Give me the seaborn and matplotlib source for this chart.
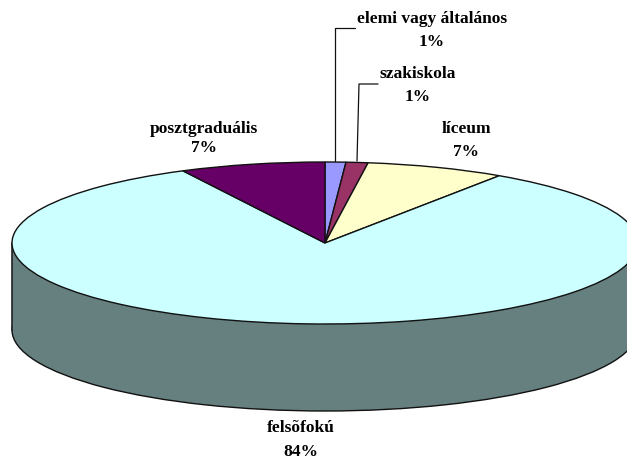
import matplotlib
matplotlib.use("Agg")
import matplotlib.pyplot as plt
import seaborn as sns
from matplotlib.patches import Rectangle

categories = ["elemi vagy általános", "szakiskola", "líceum", "felsõfokú", "posztgraduális"]
slice_shares = [1.07, 1.13, 7.2, 83.1, 7.5]
percent_labels = ["1%", "1%", "7%", "84%", "7%"]
slice_colors = ["#9999FF", "#993366", "#FFFFCC", "#CCFFFF", "#660066"]
wall_color = "#667F7F"

W, H = 627, 460
CX, CY, RX, RY = 325, 244, 313, 81
DEPTH = 87 / RY

sns.set_theme(style="white")
plt.rcParams["font.family"] = ["Liberation Serif", "DejaVu Serif"]

fig = plt.figure(figsize=(W / 100, H / 100), dpi=100, facecolor="white")
ax = fig.add_axes([0, 0, 1, 1])

edge = dict(edgecolor="#111111", linewidth=1.0)
# lower rim and wall of the disc, then the top face
ax.pie([1], radius=1, center=(0, -DEPTH), colors=[wall_color], wedgeprops=edge)
ax.add_patch(Rectangle((-1, -DEPTH), 2, DEPTH, facecolor=wall_color, edgecolor="none", zorder=1.5))
ax.plot([-1, -1], [-DEPTH, 0], color="#222222", lw=1.2, zorder=1.6)
wedges, _ = ax.pie(slice_shares, radius=1, center=(0, 0), colors=sns.color_palette(slice_colors),
                   startangle=90, counterclock=False, wedgeprops=edge)
for w in wedges:
    w.set_zorder(2)

ax.set_aspect("auto")
ax.set_xlim((0 - CX) / RX, (W - CX) / RX)
ax.set_ylim((CY - H) / RY, (CY - 0) / RY)
ax.axis("off")


def px(x, y):
    return (x - CX) / RX, (CY - y) / RY


label_pos = [
    (432, 19, 42),
    (418, 74, 97),
    (466, 129, 152),
    (301, 428, 452),
    (204, 129, 148),
]
for name, pct, (x, y1, y2) in zip(categories, percent_labels, label_pos):
    for s, y in ((name, y1), (pct, y2)):
        tx, ty = px(x, y)
        ax.text(tx, ty, s, ha="center", va="center", fontsize=12.5, fontweight="bold", color="black", zorder=5)

for pts in ([(335, 162), (335, 29), (355, 29)], [(357, 162), (359, 85), (378, 85)]):
    xs, ys = zip(*[px(*p) for p in pts])
    ax.plot(xs, ys, color="#111111", lw=0.9, zorder=3)

fig.savefig("out.png", dpi=100, facecolor="white")
